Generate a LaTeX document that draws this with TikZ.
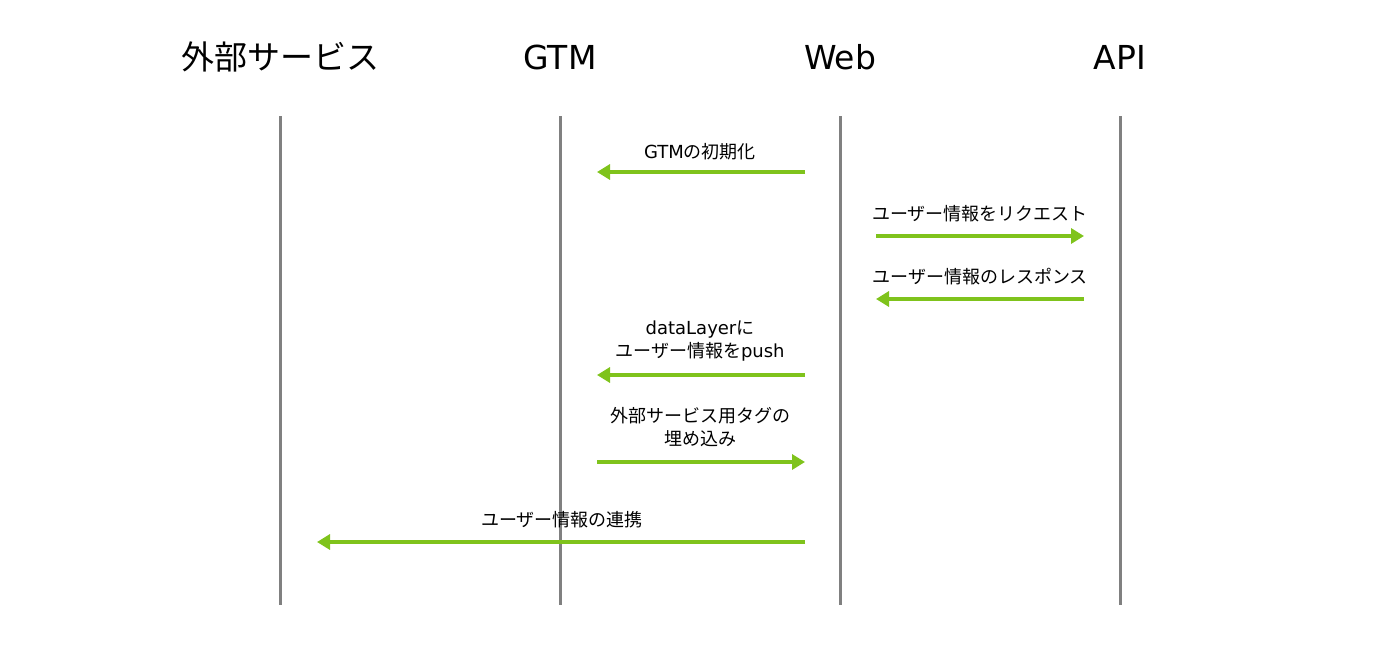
\documentclass[tikz,border=0pt]{standalone}
\usepackage{fontspec}
\setmainfont{DejaVu Sans}
\newfontfamily\jp{Noto Sans CJK JP}
\usetikzlibrary{arrows.meta}
\definecolor{msggreen}{HTML}{7FC31C}
\definecolor{lifegray}{HTML}{808080}
\tikzset{
  header/.style={font=\fontsize{33}{40}\selectfont, anchor=center, inner sep=0pt},
  lifeline/.style={draw=lifegray, line width=3pt},
  msg/.style={draw=msggreen, line width=4pt, -{Triangle[length=13pt,width=15pt]}, shorten >=0pt},
  msglabel/.style={font=\fontsize{18}{23}\selectfont, align=center, inner sep=0pt, anchor=center},
}
\begin{document}
\begin{tikzpicture}[x=1pt,y=-1pt]
\useasboundingbox (0,0) rectangle (1400,653);
% headers
\node[header] (hExt) at (280,57) {\jp 外部サービス};
\node[header] (hGTM) at (560,57) {GTM};
\node[header] (hWeb) at (840,57) {Web};
\node[header] (hAPI) at (1120,57) {API};
% lifelines
\foreach \n/\x in {Ext/280,GTM/560,Web/840,API/1120}{
  \coordinate (t\n) at (\x,116);
  \coordinate (b\n) at (\x,605);
  \draw[lifeline] (t\n) -- (b\n);
}
% message 1
\coordinate (m1s) at (805,172); \coordinate (m1e) at (597,172);
\draw[msg] (m1s) -- (m1e);
\node[msglabel] (l1) at (700,152) {GTM{\jp の初期化}};
% message 2
\coordinate (m2s) at (876,236); \coordinate (m2e) at (1084,236);
\draw[msg] (m2s) -- (m2e);
\node[msglabel] (l2) at (980,214) {\jp ユーザー情報をリクエスト};
% message 3
\coordinate (m3s) at (1084,299); \coordinate (m3e) at (876,299);
\draw[msg] (m3s) -- (m3e);
\node[msglabel] (l3) at (980,277) {\jp ユーザー情報のレスポンス};
% message 4
\coordinate (m4s) at (805,375); \coordinate (m4e) at (597,375);
\draw[msg] (m4s) -- (m4e);
\node[msglabel] (l4) at (700,341) {dataLayer{\jp に}\\{\jp ユーザー情報を}push};
% message 5
\coordinate (m5s) at (597,462); \coordinate (m5e) at (805,462);
\draw[msg] (m5s) -- (m5e);
\node[msglabel] (l5) at (700,427) {\jp 外部サービス用タグの\\\jp 埋め込み};
% message 6
\coordinate (m6s) at (805,542); \coordinate (m6e) at (317,542);
\draw[msg] (m6s) -- (m6e);
\node[msglabel] (l6) at (562,520) {\jp ユーザー情報の連携};
\end{tikzpicture}
\end{document}
